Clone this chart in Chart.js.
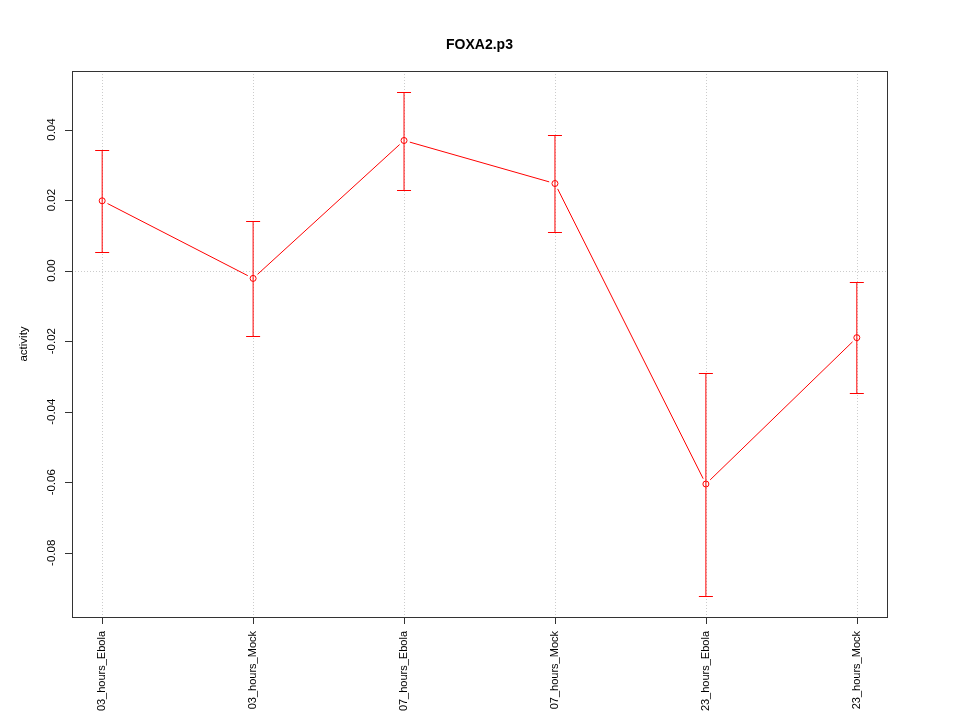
<!DOCTYPE html>
<html>
<head>
<meta charset="utf-8">
<script src="https://cdn.jsdelivr.net/npm/chart.js@4"></script>
<style>
  html, body { margin: 0; padding: 0; background: #fff; }
  #wrap { width: 960px; height: 720px; }
</style>
</head>
<body>
<div id="wrap"><canvas id="chart" width="960" height="720"></canvas></div>
<script>
// values
var groups = ["03_hours_Ebola", "03_hours_Mock", "07_hours_Ebola", "07_hours_Mock", "23_hours_Ebola", "23_hours_Mock"];
var activity = [0.0198, -0.0022, 0.0369, 0.0247, -0.0605, -0.0190];
var upper = [0.0342, 0.0140, 0.0507, 0.0384, -0.0289, -0.0032];
var lower = [0.0053, -0.0184, 0.0230, 0.0110, -0.0923, -0.0348];
var yTicks = [-0.08, -0.06, -0.04, -0.02, 0.00, 0.02, 0.04];

var red = "#ff0000";
var font = "Liberation Sans, Arial, Helvetica, sans-serif";

var points = activity.map(function (v, i) { return { x: i + 1, y: v }; });

// R-like frame, axes, grid, error bars and the gapped "type=b" line
var rPlot = {
    id: "rPlot",
    beforeDatasetsDraw: function (chart) {
        var ctx = chart.ctx, xs = chart.scales.x, ys = chart.scales.y, a = chart.chartArea;
        ctx.save();
        ctx.strokeStyle = "#cccccc";
        ctx.lineWidth = 1;
        ctx.setLineDash([1, 2]);
        groups.forEach(function (g, i) {
            var x = Math.round(xs.getPixelForValue(i + 1)) + 0.5;
            ctx.beginPath(); ctx.moveTo(x, a.top); ctx.lineTo(x, a.bottom); ctx.stroke();
        });
        var y0 = Math.round(ys.getPixelForValue(0)) + 0.5;
        ctx.beginPath(); ctx.moveTo(a.left, y0); ctx.lineTo(a.right, y0); ctx.stroke();
        ctx.setLineDash([]);

        // error bars
        ctx.strokeStyle = red;
        groups.forEach(function (g, i) {
            var x = xs.getPixelForValue(i + 1);
            var yt = Math.round(ys.getPixelForValue(upper[i])) + 0.5;
            var yb = Math.round(ys.getPixelForValue(lower[i])) + 0.5;
            ctx.beginPath();
            ctx.moveTo(x, yt); ctx.lineTo(x, yb);
            ctx.moveTo(x - 7, yt); ctx.lineTo(x + 7, yt);
            ctx.moveTo(x - 7, yb); ctx.lineTo(x + 7, yb);
            ctx.stroke();
        });

        // connecting segments, stopping short of the points
        for (var i = 0; i < points.length - 1; i++) {
            var x1 = xs.getPixelForValue(points[i].x), y1 = ys.getPixelForValue(points[i].y);
            var x2 = xs.getPixelForValue(points[i + 1].x), y2 = ys.getPixelForValue(points[i + 1].y);
            var dx = x2 - x1, dy = y2 - y1, len = Math.sqrt(dx * dx + dy * dy);
            var gap = 6 / len;
            ctx.beginPath();
            ctx.moveTo(x1 + dx * gap, y1 + dy * gap);
            ctx.lineTo(x2 - dx * gap, y2 - dy * gap);
            ctx.stroke();
        }
        ctx.restore();
    },
    afterDraw: function (chart) {
        var ctx = chart.ctx, xs = chart.scales.x, ys = chart.scales.y, a = chart.chartArea;
        ctx.save();
        ctx.strokeStyle = "#333333";
        ctx.lineWidth = 1;
        ctx.strokeRect(Math.round(a.left) + 0.5, Math.round(a.top) + 0.5,
            Math.round(a.right - a.left), Math.round(a.bottom - a.top));

        ctx.fillStyle = "#000";

        // y axis
        ctx.beginPath();
        yTicks.forEach(function (t) {
            var y = Math.round(ys.getPixelForValue(t)) + 0.5;
            ctx.moveTo(a.left - 7, y); ctx.lineTo(a.left, y);
        });
        ctx.stroke();
        ctx.font = "11.5px " + font;
        yTicks.forEach(function (t) {
            var y = ys.getPixelForValue(t);
            ctx.save();
            ctx.translate(52, y);
            ctx.rotate(-Math.PI / 2);
            ctx.textAlign = "center";
            ctx.textBaseline = "middle";
            ctx.fillText(t.toFixed(2), 0, 0);
            ctx.restore();
        });

        // x axis
        ctx.beginPath();
        groups.forEach(function (g, i) {
            var x = Math.round(xs.getPixelForValue(i + 1)) + 0.5;
            ctx.moveTo(x, a.bottom); ctx.lineTo(x, a.bottom + 7);
        });
        ctx.stroke();
        ctx.font = "11px " + font;
        groups.forEach(function (g, i) {
            var x = xs.getPixelForValue(i + 1);
            ctx.save();
            ctx.translate(x, a.bottom + 14);
            ctx.rotate(-Math.PI / 2);
            ctx.textAlign = "right";
            ctx.textBaseline = "middle";
            ctx.fillText(g, 0, 0);
            ctx.restore();
        });

        // axis title and main title
        ctx.font = "11.5px " + font;
        ctx.save();
        ctx.translate(24, (a.top + a.bottom) / 2);
        ctx.rotate(-Math.PI / 2);
        ctx.textAlign = "center";
        ctx.textBaseline = "middle";
        ctx.fillText("activity", 0, 0);
        ctx.restore();

        ctx.font = "bold 14px " + font;
        ctx.textAlign = "center";
        ctx.textBaseline = "middle";
        ctx.fillText("FOXA2.p3", (a.left + a.right) / 2, 45);
        ctx.restore();
    }
};

new Chart(document.getElementById("chart"), {
    type: "line",
    data: {
        datasets: [{
            label: "activity",
            data: points,
            showLine: false,
            borderColor: red,
            borderWidth: 1,
            backgroundColor: "rgba(0,0,0,0)",
            pointBackgroundColor: "rgba(0,0,0,0)",
            pointBorderColor: red,
            pointBorderWidth: 1,
            pointRadius: 3,
            fill: false
        }]
    },
    options: {
        responsive: false,
        animation: false,
        layout: { padding: { left: 72, right: 73, top: 71, bottom: 103 } },
        plugins: { legend: { display: false }, tooltip: { enabled: false }, title: { display: false } },
        scales: {
            x: { type: "linear", min: 0.8, max: 6.2, display: false },
            y: { type: "linear", min: -0.0982, max: 0.0566, display: false }
        }
    },
    plugins: [rPlot]
});
</script>
</body>
</html>
